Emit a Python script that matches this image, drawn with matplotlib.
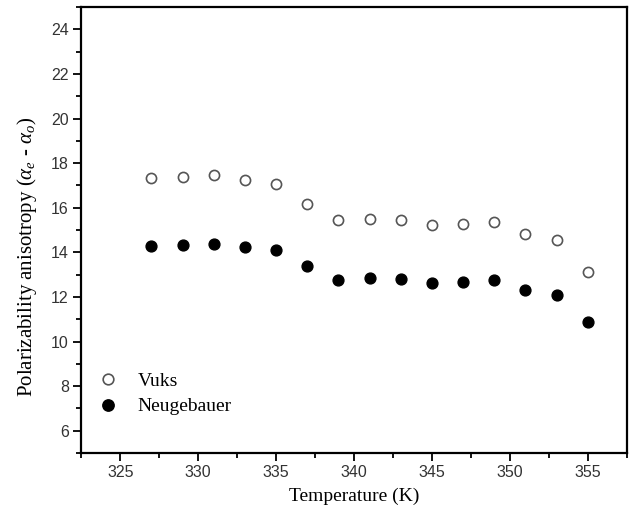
import matplotlib
matplotlib.use("Agg")
import matplotlib.pyplot as plt
from matplotlib.ticker import MultipleLocator

temperature = [327, 329, 331, 333, 335, 337, 339, 341, 343, 345, 347, 349, 351, 353, 355]
vuks = [17.31, 17.36, 17.45, 17.23, 17.05, 16.17, 15.43, 15.51, 15.43, 15.23, 15.27, 15.34, 14.83, 14.53, 13.11]
neugebauer = [14.29, 14.34, 14.38, 14.23, 14.10, 13.38, 12.78, 12.87, 12.80, 12.64, 12.67, 12.75, 12.31, 12.09, 10.87]
series_labels = ["Vuks", "Neugebauer"]
x_label = "Temperature (K)"
y_label = r"Polarizability anisotropy ($\alpha_e$ - $\alpha_o$)"

plt.rcParams['mathtext.fontset'] = 'custom'
plt.rcParams['mathtext.rm'] = 'Liberation Serif'
plt.rcParams['mathtext.it'] = 'Liberation Serif:italic'

fig = plt.figure(figsize=(6.32, 5.16), dpi=100)
ax = fig.add_axes([0.1286, 0.1221, 0.8630, 0.8643])

ax.plot(temperature, vuks, linestyle='none', marker='o', markersize=7.3,
        markerfacecolor='white', markeredgecolor='#555555', markeredgewidth=1.2,
        label=series_labels[0])
ax.plot(temperature, neugebauer, linestyle='none', marker='o', markersize=7.8,
        markerfacecolor='black', markeredgecolor='black',
        label=series_labels[1])

ax.set_xlim(322.5, 357.5)
ax.set_ylim(5, 25)
ax.xaxis.set_major_locator(MultipleLocator(5))
ax.xaxis.set_minor_locator(MultipleLocator(2.5))
ax.yaxis.set_major_locator(MultipleLocator(2))
ax.yaxis.set_minor_locator(MultipleLocator(1))

ax.tick_params(which='both', direction='out', top=False, right=False,
               width=1.3, colors='black')
ax.tick_params(which='major', length=6, labelsize=11.5, labelcolor='#333333', pad=3)
ax.tick_params(which='minor', length=3.5)
for lab in ax.get_xticklabels() + ax.get_yticklabels():
    lab.set_family('Liberation Sans')

for s in ax.spines.values():
    s.set_linewidth(1.6)

ax.set_xlabel(x_label, family='Liberation Serif', fontsize=14, labelpad=5)
ax.set_ylabel(y_label, family='Liberation Serif', fontsize=15)
ax.yaxis.set_label_coords(-0.078, 0.44)

leg = ax.legend(loc='center left', bbox_to_anchor=(0.023, 0.133), frameon=False,
                prop={'family': 'Liberation Serif', 'size': 14},
                handletextpad=0.75, labelspacing=0.42, handlelength=1.5,
                borderaxespad=0, borderpad=0, markerscale=1.05)

fig.savefig("out.png", dpi=100)
